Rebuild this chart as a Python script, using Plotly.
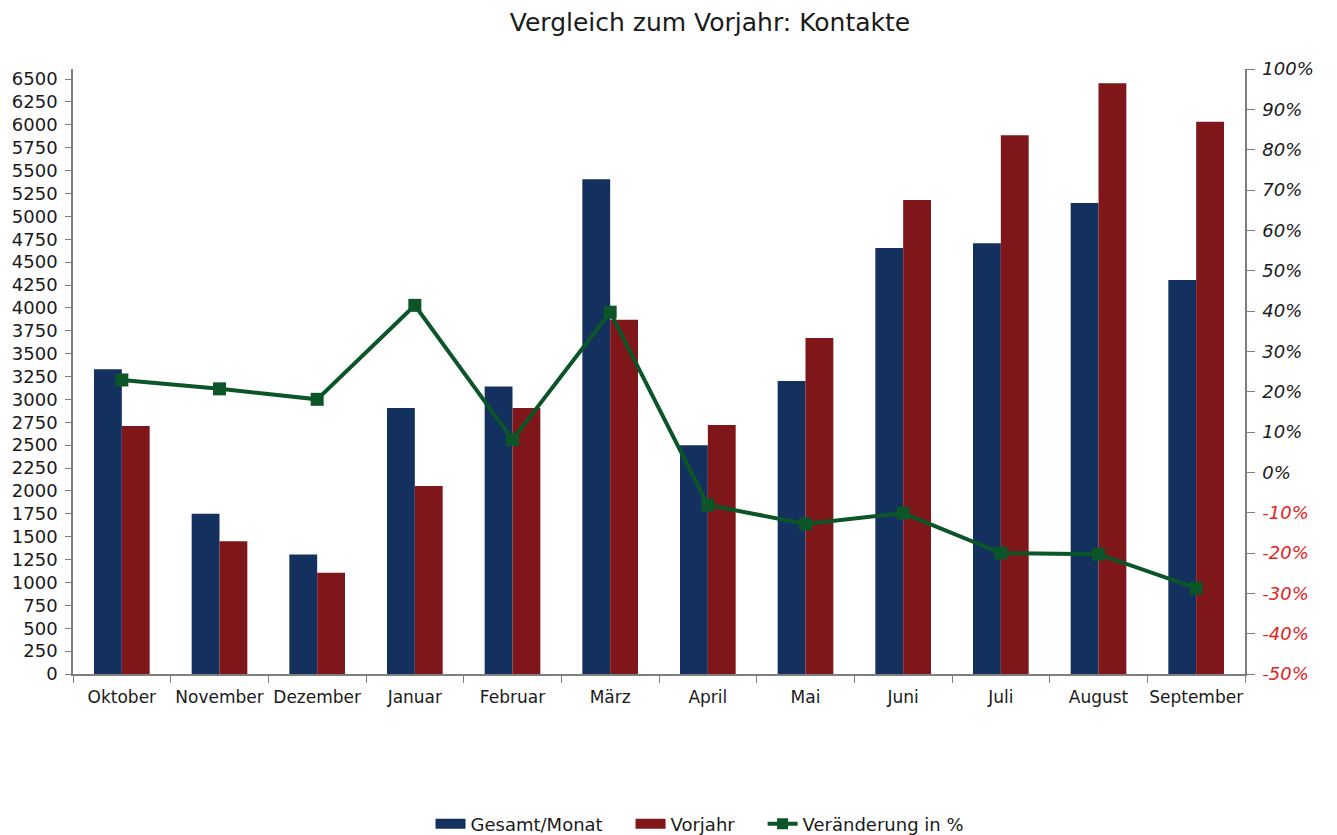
import plotly.graph_objects as go

months = ["Oktober", "November", "Dezember", "Januar", "Februar", "März",
          "April", "Mai", "Juni", "Juli", "August", "September"]
gesamt = [3330, 1750, 1305, 2905, 3140, 5405, 2500, 3200, 4655, 4705, 5145, 4305]
vorjahr = [2710, 1450, 1105, 2055, 2905, 3870, 2720, 3670, 5180, 5885, 6455, 6035]
veraenderung = [22.9, 20.7, 18.1, 41.4, 8.1, 39.7, -8.1, -12.8, -10.1, -20.0, -20.3, -28.7]

left_ticks = list(range(0, 6501, 250))
right_ticks = list(range(-50, 101, 10))
right_text = [
    (f"<span style='color:#E8231E'><i>{v}%</i></span>" if v < 0 else f"<i>{v}%</i>")
    for v in right_ticks
]

BLUE = "#13305E"
RED = "#7F1619"
GREEN = "#0B5528"
FONT = "DejaVu Sans"
AX = "#7f7f7f"
NB = "\u00a0" * 4

fig = go.Figure()
fig.add_trace(go.Bar(x=months, y=gesamt, name="Gesamt/Monat", showlegend=False,
                     marker=dict(color=BLUE, line=dict(width=0))))
fig.add_trace(go.Bar(x=months, y=vorjahr, name="Vorjahr", showlegend=False,
                     marker=dict(color=RED, line=dict(width=0))))
fig.add_trace(go.Scatter(x=months, y=veraenderung, name="Veränderung in %",
                         yaxis="y2", mode="lines+markers", showlegend=False,
                         line=dict(color=GREEN, width=4),
                         marker=dict(symbol="square", size=13, color=GREEN)))
# legend entries styled like the reference legend keys
fig.add_trace(go.Scatter(x=[None], y=[None], name="Gesamt/Monat" + NB, mode="lines",
                         line=dict(color=BLUE, width=10)))
fig.add_trace(go.Scatter(x=[None], y=[None], name="Vorjahr" + NB, mode="lines",
                         line=dict(color=RED, width=10)))
fig.add_trace(go.Scatter(x=[None], y=[None], name="Veränderung in %", mode="lines+markers",
                         line=dict(color=GREEN, width=4),
                         marker=dict(symbol="square", size=11, color=GREEN)))

# page body has an 8px margin, so the figure is offset by (8, 8) on the page;
# figure is a bit taller than the window so the legend needs no extra margin
fig.update_layout(
    width=1337, height=850,
    paper_bgcolor="white", plot_bgcolor="white",
    margin=dict(l=65, r=100, t=61, b=184),
    font=dict(family=FONT, size=17, color="#1a1a1a"),
    title=dict(text="Vergleich zum Vorjahr: Kontakte", x=702 / 1337, xanchor="center",
               y=1 - 14 / 850, yanchor="middle", xref="container", yref="container",
               font=dict(family=FONT, size=25, color="#1a1a1a")),
    barmode="group", bargap=0.43, bargroupgap=0,
    showlegend=True,
    legend=dict(orientation="h", x=0.535, xanchor="center", y=-0.248, yanchor="middle",
                font=dict(family=FONT, size=18, color="#1a1a1a"),
                traceorder="normal", itemwidth=30, tracegroupgap=0),
    xaxis=dict(range=[-0.5, 11.5], automargin=False, tickangle=0,
               showline=True, linecolor=AX, linewidth=1.5,
               ticks="outside", ticklen=7, tickcolor=AX,
               tickson="boundaries", showgrid=False, zeroline=False,
               ticklabelstandoff=7,
               tickfont=dict(family=FONT, size=17)),
    yaxis=dict(range=[0, 6610], tickvals=left_ticks, ticktext=[str(v) for v in left_ticks],
               automargin=False,
               showline=True, linecolor=AX, linewidth=1.5,
               ticks="outside", ticklen=6, tickcolor=AX,
               ticklabelstandoff=4,
               showgrid=False, zeroline=False,
               tickfont=dict(family=FONT, size=18)),
    yaxis2=dict(range=[-50, 100], tickvals=right_ticks, ticktext=right_text,
                overlaying="y", side="right", automargin=False,
                showline=True, linecolor=AX, linewidth=1.5,
                ticks="outside", ticklen=8, tickcolor=AX,
                ticklabelstandoff=4,
                showgrid=False, zeroline=False,
                tickfont=dict(family=FONT, size=18)),
)

fig.write_html("out.html")
